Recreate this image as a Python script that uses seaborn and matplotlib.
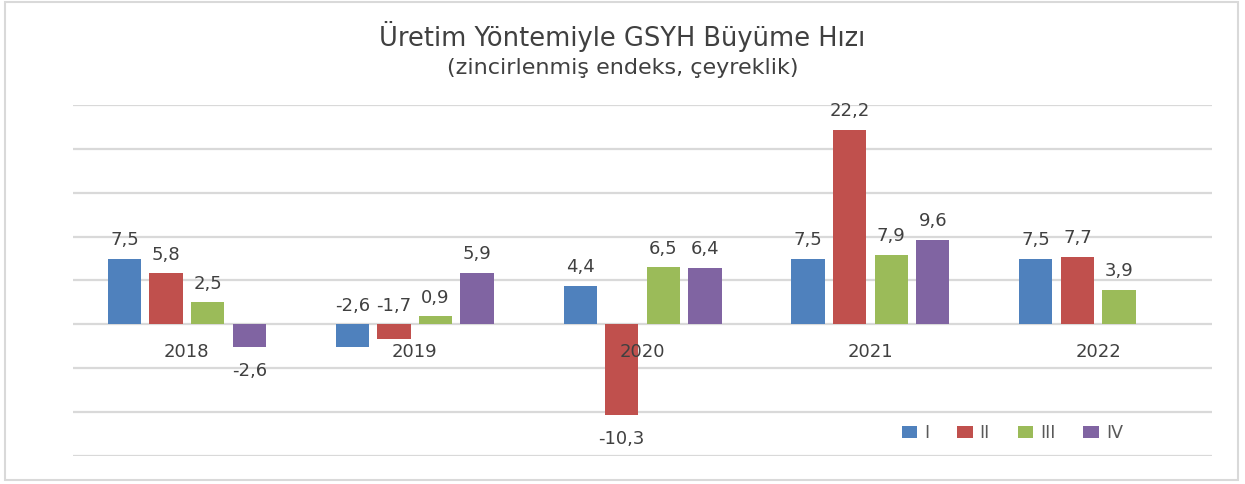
import pandas as pd
import matplotlib.pyplot as plt
import seaborn as sns
from matplotlib.patches import Rectangle

yillar = ['2018', '2019', '2020', '2021', '2022']
ceyrekler = ['I', 'II', 'III', 'IV']
q1 = [7.5, -2.6, 4.4, 7.5, 7.5]
q2 = [5.8, -1.7, -10.3, 22.2, 7.7]
q3 = [2.5, 0.9, 6.5, 7.9, 3.9]
q4 = [-2.6, 5.9, 6.4, 9.6, None]
renkler = ['#4F81BD', '#C0504D', '#9BBB59', '#8064A2']

rows = []
for c, vals in zip(ceyrekler, [q1, q2, q3, q4]):
    for y, v in zip(yillar, vals):
        if v is not None:
            rows.append({'yil': y, 'ceyrek': c, 'deger': v})
df = pd.DataFrame(rows)

sns.set_style('white')
plt.rcParams['font.family'] = ['DejaVu Sans']

fig = plt.figure(figsize=(12.45, 4.84), dpi=100)
ax = fig.add_axes([0.0586, 0.058, 0.915, 0.725])

sns.barplot(data=df, x='yil', y='deger', hue='ceyrek', order=yillar,
            hue_order=ceyrekler, palette=renkler, width=0.73, gap=0.2,
            saturation=1, linewidth=0, ax=ax)

ax.set_ylim(-15, 25)
ax.set_xlim(-0.5, 4.5)
ax.set_yticks(range(-15, 26, 5))
ax.set_yticklabels([])
ax.set_xticks([])
ax.grid(axis='y', color='#D9D9D9', linewidth=1.6)
ax.set_axisbelow(True)
for s in ['top', 'right', 'left', 'bottom']:
    ax.spines[s].set_visible(False)
ax.tick_params(axis='both', length=0)
ax.set_xlabel('')
ax.set_ylabel('')

# yil etiketleri sifir cizgisinin altinda, cubuklarin ustunde
for i, y in enumerate(yillar):
    ax.annotate(y, (i, 0), xytext=(0, -20), textcoords='offset points',
                ha='center', va='center', fontsize=13, color='#404040', zorder=5)

# 2019 negatif etiketleri grafikte yukari tasinmis
yukari = {('2019', 'I'), ('2019', 'II')}
for c, cont in zip(ceyrekler, ax.containers):
    for bar, v in zip(cont, cont.datavalues):
        x = bar.get_x() + bar.get_width() / 2
        yil = yillar[int(round(x))]
        txt = f'{v:.1f}'.replace('.', ',')
        if v >= 0 or (yil, c) in yukari:
            ax.annotate(txt, (x, max(v, 0)), xytext=(0, 7), textcoords='offset points',
                        ha='center', va='bottom', fontsize=13, color='#404040')
        else:
            ax.annotate(txt, (x, v), xytext=(0, -11), textcoords='offset points',
                        ha='center', va='top', fontsize=13, color='#404040')

ax.legend(loc='center', bbox_to_anchor=(0.813, 0.105), bbox_transform=fig.transFigure,
          ncol=4, frameon=False, fontsize=12.5, handlelength=0.9, handleheight=0.7,
          columnspacing=1.6, handletextpad=0.4, labelcolor='#595959')

fig.text(0.5, 0.924, 'Üretim Yöntemiyle GSYH Büyüme Hızı', ha='center', va='center',
         fontsize=18.5, color='#404040')
fig.text(0.5, 0.86, '(zincirlenmiş endeks, çeyreklik)', ha='center', va='center',
         fontsize=16, color='#404040')

fig.patches.append(Rectangle((0.004, 0.008), 0.99, 0.988, transform=fig.transFigure,
                             fill=False, edgecolor='#D9D9D9', linewidth=1.5))

plt.savefig('out.png', dpi=100)
